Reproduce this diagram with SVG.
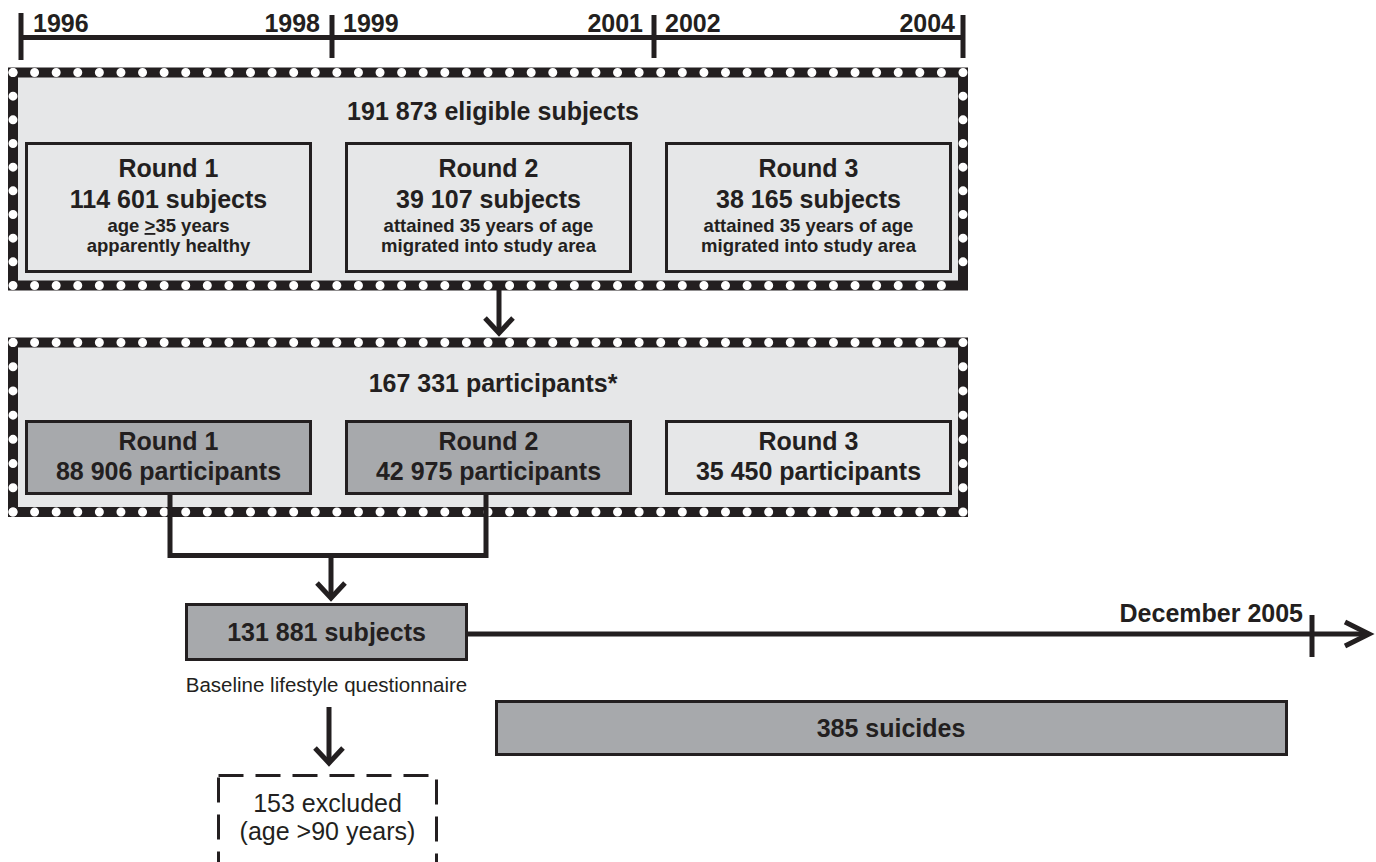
<svg xmlns="http://www.w3.org/2000/svg" width="1376" height="862" viewBox="0 0 1376 862">
<style>
.t{font-family:"Liberation Sans",Arial,sans-serif;fill:#231f20;text-anchor:middle}
.b{font-weight:bold;font-size:25px}
.s{font-weight:bold;font-size:18.5px}
.r{font-size:25px}
.band{fill:#e6e7e8;stroke:#231f20;stroke-width:10}
.dots{stroke:#fff;stroke-width:9;stroke-linecap:round;fill:none}
.sub{stroke:#231f20;stroke-width:3}
.lt{fill:#e6e7e8}
.dk{fill:#a7a9ac}
.ln{stroke:#231f20;stroke-width:5;fill:none}
</style>
<defs>
<marker id="chev" markerUnits="userSpaceOnUse" markerWidth="40" markerHeight="40" refX="0" refY="0" viewBox="-20 -20 40 40" orient="auto" overflow="visible">
<path d="M-15,-14 L0,0 L-15,14" fill="none" stroke="#231f20" stroke-width="5"/>
</marker>
</defs>
<rect width="1376" height="862" fill="#fff"/>

<g id="timeline">
<line class="ln" x1="21" y1="37.5" x2="963" y2="37.5"/>
<line class="ln" x1="21" y1="13" x2="21" y2="60"/>
<line class="ln" x1="332" y1="15" x2="332" y2="58"/>
<line class="ln" x1="654" y1="15" x2="654" y2="58"/>
<line class="ln" x1="963" y1="15" x2="963" y2="58"/>
<text class="t b" x="33" y="32" style="text-anchor:start">1996</text>
<text class="t b" x="320" y="32" style="text-anchor:end">1998</text>
<text class="t b" x="343" y="32" style="text-anchor:start">1999</text>
<text class="t b" x="643" y="32" style="text-anchor:end">2001</text>
<text class="t b" x="665" y="32" style="text-anchor:start">2002</text>
<text class="t b" x="955" y="32" style="text-anchor:end">2004</text>
</g>

<g id="eligible">
<rect class="band" x="13" y="72.5" width="950" height="213"/>
<line class="dots" x1="13" y1="72.5" x2="963" y2="72.5" stroke-dasharray="0 21.591"/>
<line class="dots" x1="13" y1="285.5" x2="963" y2="285.5" stroke-dasharray="0 21.591"/>
<line class="dots" x1="13" y1="72.5" x2="13" y2="285.5" stroke-dasharray="0 23.667"/>
<line class="dots" x1="963" y1="72.5" x2="963" y2="285.5" stroke-dasharray="0 23.667"/>
<text class="t b" x="493" y="120">191 873 eligible subjects</text>
</g>

<g id="e-round1">
<rect class="sub lt" x="26.5" y="143.5" width="284" height="128"/>
<text class="t b" x="168.5" y="177">Round 1</text>
<text class="t b" x="168.5" y="208">114 601 subjects</text>
<text class="t s" x="168.5" y="232">age <tspan text-decoration="underline">&gt;</tspan>35 years</text>
<text class="t s" x="168.5" y="252">apparently healthy</text>
</g>
<g id="e-round2">
<rect class="sub lt" x="346.5" y="143.5" width="284" height="128"/>
<text class="t b" x="488.5" y="177">Round 2</text>
<text class="t b" x="488.5" y="208">39 107 subjects</text>
<text class="t s" x="488.5" y="232">attained 35 years of age</text>
<text class="t s" x="488.5" y="252">migrated into study area</text>
</g>
<g id="e-round3">
<rect class="sub lt" x="666.5" y="143.5" width="284" height="128"/>
<text class="t b" x="808.5" y="177">Round 3</text>
<text class="t b" x="808.5" y="208">38 165 subjects</text>
<text class="t s" x="808.5" y="232">attained 35 years of age</text>
<text class="t s" x="808.5" y="252">migrated into study area</text>
</g>

<g id="participants">
<rect class="band" x="13" y="342.5" width="950" height="169.5"/>
<line class="dots" x1="13" y1="342.5" x2="963" y2="342.5" stroke-dasharray="0 21.591"/>
<line class="dots" x1="13" y1="512" x2="963" y2="512" stroke-dasharray="0 21.591"/>
<line class="dots" x1="13" y1="342.5" x2="13" y2="512" stroke-dasharray="0 24.214"/>
<line class="dots" x1="963" y1="342.5" x2="963" y2="512" stroke-dasharray="0 24.214"/>
<text class="t b" x="493" y="392">167 331 participants*</text>
</g>

<g id="p-round1">
<rect class="sub dk" x="26.5" y="421.5" width="284" height="72"/>
<text class="t b" x="168.5" y="450">Round 1</text>
<text class="t b" x="168.5" y="480">88 906 participants</text>
</g>
<g id="p-round2">
<rect class="sub dk" x="346.5" y="421.5" width="284" height="72"/>
<text class="t b" x="488.5" y="450">Round 2</text>
<text class="t b" x="488.5" y="480">42 975 participants</text>
</g>
<g id="p-round3">
<rect class="sub lt" x="666.5" y="421.5" width="284" height="72"/>
<text class="t b" x="808.5" y="450">Round 3</text>
<text class="t b" x="808.5" y="480">35 450 participants</text>
</g>

<g id="subjects">
<rect class="sub dk" x="186.5" y="604.5" width="280" height="55"/>
<text class="t b" x="326.5" y="641">131 881 subjects</text>
<text class="t" x="326.5" y="692" style="font-size:20.5px">Baseline lifestyle questionnaire</text>
</g>

<g id="suicides">
<rect class="sub dk" x="496.5" y="701.5" width="790" height="53"/>
<text class="t b" x="891" y="737">385 suicides</text>
</g>

<g id="excluded">
<rect x="218.5" y="775.5" width="218" height="110" fill="none" stroke="#231f20" stroke-width="3" stroke-dasharray="25 12"/>
<text class="t r" x="327.5" y="812">153 excluded</text>
<text class="t r" x="327.5" y="840">(age &gt;90 years)</text>
</g>

<g id="end-marker">
<line class="ln" x1="1312" y1="615" x2="1312" y2="657"/>
<text class="t b" x="1303" y="622" style="text-anchor:end">December 2005</text>
</g>

<g id="connectors">
<line class="ln" x1="499" y1="290" x2="499" y2="333" marker-end="url(#chev)"/>
<polyline class="ln" points="170,495 170,555.5 486,555.5 486,495"/>
<line class="ln" x1="331" y1="555" x2="331" y2="598" marker-end="url(#chev)"/>
<line class="ln" x1="467" y1="634" x2="1366" y2="634"/>
<path class="ln" d="M1345,622 L1369,634 L1345,646"/>
<line class="ln" x1="329" y1="707" x2="329" y2="763" marker-end="url(#chev)"/>
</g>
</svg>
